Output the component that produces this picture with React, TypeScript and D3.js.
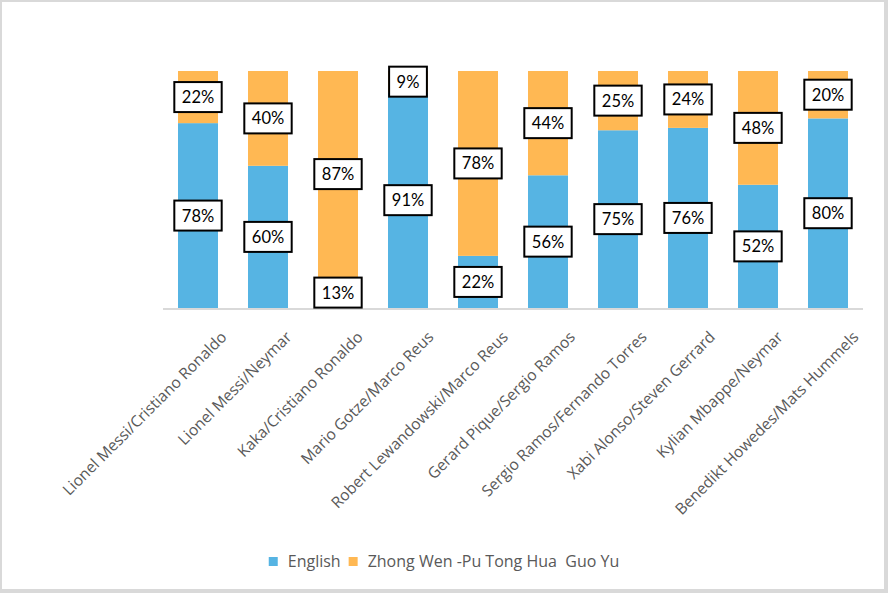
import React, { useEffect, useRef } from 'react';
import * as d3 from 'd3';

const W = 888;
const H = 593;

const categories = [
  'Lionel Messi/Cristiano Ronaldo',
  'Lionel Messi/Neymar',
  'Kaka/Cristiano Ronaldo',
  'Mario Gotze/Marco Reus',
  'Robert Lewandowski/Marco Reus',
  'Gerard Pique/Sergio Ramos',
  'Sergio Ramos/Fernando Torres',
  'Xabi Alonso/Steven Gerrard',
  'Kylian Mbappe/Neymar',
  'Benedikt Howedes/Mats Hummels',
];
const englishValues = [78, 60, 13, 91, 22, 56, 75, 76, 52, 80];
const zhongValues = [22, 40, 87, 9, 78, 44, 25, 24, 48, 20];
const seriesKeys = ['english', 'zhong'];
const seriesNames = ['English', 'Zhong Wen -Pu Tong Hua  Guo Yu'];
const seriesColors = ['#56B4E3', '#FFB853'];

const LABEL_FONT = 'Lato, "Open Sans", sans-serif';
const TEXT_FONT = '"Open Sans", Lato, sans-serif';

export default function App() {
  const ref = useRef<SVGSVGElement>(null);

  useEffect(() => {
    const svg = d3.select(ref.current);
    svg.selectAll('*').remove();

    svg.append('rect').attr('width', W).attr('height', H).attr('fill', '#d9d9d9');
    svg.append('rect').attr('x', 2).attr('y', 2).attr('width', 882).attr('height', 587).attr('fill', '#ffffff');

    const x = d3
      .scaleBand<string>()
      .domain(categories)
      .range([163, 863])
      .paddingInner(3 / 7)
      .paddingOuter(3 / 14);
    const y = d3.scaleLinear().domain([0, 100]).range([308, 71]);

    const rows = categories.map((c, i) => ({ cat: c, english: englishValues[i], zhong: zhongValues[i] }));
    const stacked = d3.stack<any>().keys(seriesKeys)(rows);

    // axis line
    svg
      .append('line')
      .attr('x1', 163)
      .attr('x2', 863)
      .attr('y1', y(0) + 1)
      .attr('y2', y(0) + 1)
      .attr('stroke', '#d9d9d9')
      .attr('stroke-width', 2);

    // bars
    stacked.forEach((s, si) => {
      svg
        .append('g')
        .selectAll('rect')
        .data(s)
        .join('rect')
        .attr('x', (d: any) => x(d.data.cat)!)
        .attr('width', x.bandwidth())
        .attr('y', (d: any) => y(d[1]))
        .attr('height', (d: any) => y(d[0]) - y(d[1]))
        .attr('fill', seriesColors[si]);
    });

    // data labels
    const lg = svg.append('g');
    stacked.forEach((s) => {
      s.forEach((d: any) => {
        const v = d[1] - d[0];
        const cx = x(d.data.cat)! + x.bandwidth() / 2;
        const cy = (y(d[0]) + y(d[1])) / 2;
        const g = lg.append('g');
        const rect = g.append('rect');
        const t = g
          .append('text')
          .attr('x', cx)
          .attr('y', cy)
          .attr('text-anchor', 'middle')
          .attr('dominant-baseline', 'central')
          .attr('font-family', LABEL_FONT)
          .attr('font-size', 16.5)
          .attr('fill', '#000000')
          .text(`${v}%`);
        const tw = (t.node() as SVGTextElement).getComputedTextLength();
        const bw = tw + 15;
        const bh = 30;
        rect
          .attr('x', cx - bw / 2)
          .attr('y', cy - bh / 2)
          .attr('width', bw)
          .attr('height', bh)
          .attr('fill', '#ffffff')
          .attr('stroke', '#000000')
          .attr('stroke-width', 2);
      });
    });

    // category labels
    const ag = svg.append('g');
    categories.forEach((c) => {
      const cx = x(c)! + x.bandwidth() / 2;
      const t = ag
        .append('text')
        .attr('text-anchor', 'end')
        .attr('font-family', TEXT_FONT)
        .attr('font-size', 15.6)
        .attr('fill', '#595959')
        .text(c);
      const L = (t.node() as SVGTextElement).getComputedTextLength();
      t.attr('transform', `translate(${cx + 14 + 0.07 * L},${338}) rotate(-45)`);
    });

    // legend
    const leg = svg.append('g');
    const items: { g: any; w: number }[] = [];
    seriesNames.forEach((n, i) => {
      const g = leg.append('g');
      g.append('rect').attr('x', 0).attr('y', -10).attr('width', 9).attr('height', 9).attr('fill', seriesColors[i]);
      const t = g
        .append('text')
        .attr('x', 19)
        .attr('y', 0)
        .attr('font-family', TEXT_FONT)
        .attr('font-size', 16)
        .attr('fill', '#595959')
        .style('white-space', 'pre')
        .text(n);
      const tw = (t.node() as SVGTextElement).getComputedTextLength();
      items.push({ g, w: 19 + tw });
    });
    const gap = 8;
    const total = items.reduce((a, b) => a + b.w, 0) + gap * (items.length - 1);
    let lx = W / 2 - total / 2;
    items.forEach((it) => {
      it.g.attr('transform', `translate(${lx},${567})`);
      lx += it.w + gap;
    });
  }, []);

  return (
    <svg
      ref={ref}
      width={W}
      height={H}
      style={{ position: 'absolute', left: 0, top: 0, display: 'block' }}
    />
  );
}
